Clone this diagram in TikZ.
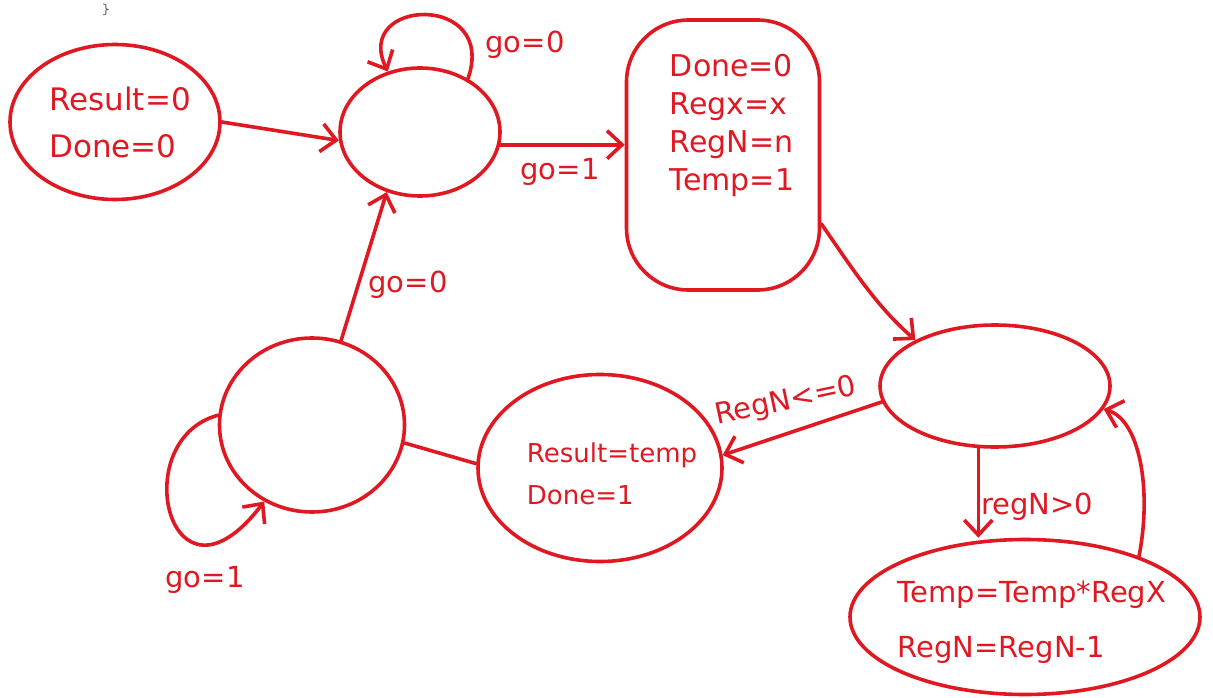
\documentclass[tikz,border=0pt]{standalone}
\usepackage{fontspec}
\setmainfont{DejaVu Sans}
\usetikzlibrary{arrows.meta,shapes.geometric}
\definecolor{ink}{RGB}{224,24,34}
\tikzset{
  pen/.style={draw=ink, line width=3.6pt, line cap=round, line join=round},
  state/.style={pen, ellipse, inner sep=0pt},
  txt/.style={text=ink, align=left, inner sep=0pt},
  lbl/.style={text=ink, inner sep=0pt, font=\fontsize{29}{32}\selectfont},
  edge/.style={pen, -{Straight Barb[length=15pt,width=28pt]}},
}
\begin{document}
\begin{tikzpicture}[x=1pt,y=-1pt]
  \useasboundingbox (0,0) rectangle (1213,698);

  % stray closing brace left over at the top of the page
  \node[font=\ttfamily\fontsize{15}{15}\selectfont, text=black!70] (brace) at (106,10) {\}};

  % states
  \node[state, minimum width=210pt, minimum height=155pt] (init) at (115,122) {};
  \node[txt, font=\fontsize{31}{47}\selectfont] (inittxt) at (120,122) {Result=0\\Done=0};

  \node[state, minimum width=160pt, minimum height=128pt] (idle) at (420,132) {};

  \node[pen, rectangle, rounded corners=62pt, minimum width=193pt, minimum height=270pt] (load) at (723,155) {};
  \node[txt, font=\fontsize{30}{38}\selectfont] (loadtxt) at (732,125) {Done=0\\Regx=x\\RegN=n\\Temp=1};

  \node[state, minimum width=230pt, minimum height=122pt] (check) at (995,386) {};

  \node[state, minimum width=350pt, minimum height=155pt] (mult) at (1025,617) {};
  \node[txt, font=\fontsize{29}{55}\selectfont] (multtxt) at (1032,622) {Temp=Temp*RegX\\RegN=RegN-1};

  \node[state, minimum width=244pt, minimum height=187pt] (finish) at (600,468) {};
  \node[txt, font=\fontsize{26}{42}\selectfont] (finishtxt) at (612,474) {Result=temp\\Done=1};

  \node[state, minimum width=185pt, minimum height=174pt] (wait) at (312,425) {};

  % transitions
  \draw[edge] (init.east) -- (idle.186);

  \draw[edge] (idle.48) .. controls (498,-8) and (352,-2) .. (idle.118);
  \node[lbl] (l1) at (525,45) {go=0};

  \draw[edge] (idle.-9) -- (idle.-9 -| load.west);
  \node[lbl] (l2) at (560,172) {go=1};

  \draw[edge] (load.-35) .. controls (850,265) and (875,305) .. (check.150);

  \draw[edge] (check.188) -- (finish.6);
  \node[lbl, rotate=12] (l3) at (786,402) {RegN<=0};

  \draw[edge] (check.255) -- (check.255 |- mult.north);
  \node[lbl] (l4) at (1037,507) {regN>0};

  \draw[edge] (mult.28) .. controls (1152,490) and (1140,420) .. (check.-12);

  \draw[pen] (finish.178) -- (wait.-11);

  \draw[edge] (wait.71) -- (idle.241);
  \node[lbl] (l5) at (408,285) {go=0};

  \draw[edge] (wait.174) .. controls (125,440) and (170,625) .. (wait.238);
  \node[lbl] (l6) at (205,580) {go=1};
\end{tikzpicture}
\end{document}
